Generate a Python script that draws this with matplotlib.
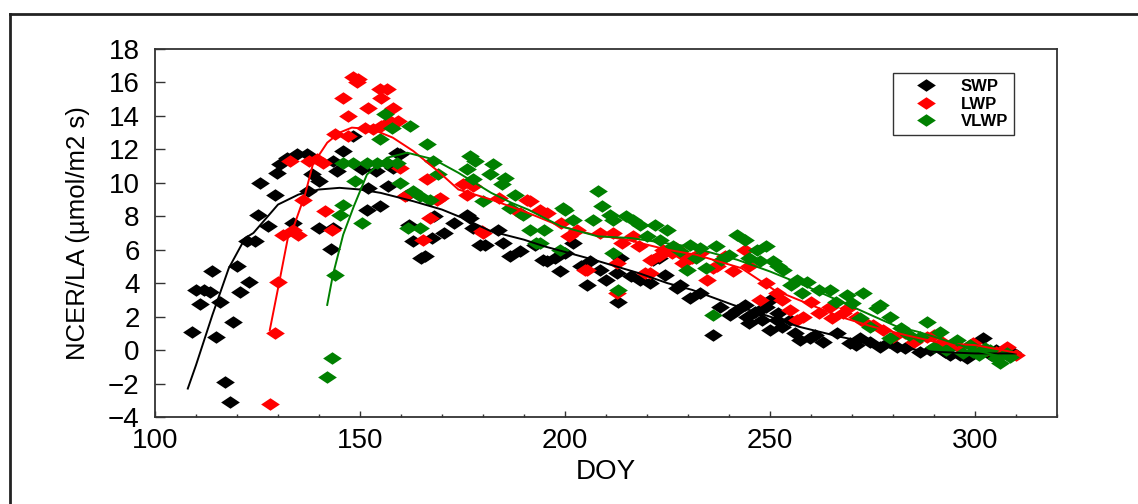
import numpy as np
import matplotlib
matplotlib.use('Agg')
import matplotlib.pyplot as plt
from matplotlib.path import Path
from matplotlib.lines import Line2D
from matplotlib.ticker import MultipleLocator

plt.rcParams['font.family'] = 'Liberation Sans'

# --- data ---
swp_x = [109, 110, 111, 112, 113.4, 113.8, 115, 115.9, 117, 118.3, 119, 120, 120.7, 122.4, 123,
         124.4, 125, 125.6, 127.6, 129.3, 129.7, 130.5, 132.2, 133.7, 134.6, 137, 137.3, 138.3,
         140, 140, 143, 143.4, 143.4, 144.4, 145.9, 148.3, 150.5, 151.7, 152, 154, 154.9, 156.6,
         156.8, 158, 159, 159.8, 161.5, 162, 163, 165, 165.9, 167.6, 168, 170.5, 173, 176, 176.8,
         177.6, 179.3, 180.5, 183.7, 185, 186.6, 189, 192.7, 194.6, 195.6, 197.6, 198.8, 200, 202,
         204, 205.4, 206, 208.5, 210, 212.7, 213, 213.4, 216, 218.3, 220.7, 221.5, 223, 224.4,
         227.3, 228, 230.5, 233, 236, 237.8, 240.2, 242, 243.9, 244.3, 245, 246.3, 247.6, 248,
         249, 250, 250, 251.7, 252, 253, 254.9, 256, 257.3, 259.8, 261, 263, 266.3, 269.5, 271,
         272, 274.4, 276.8, 279, 281, 283, 286.6, 289, 292.7, 294, 296.3, 298, 300, 302, 304,
         305, 307, 309]
swp_y = [1.1, 3.6, 2.75, 3.6, 3.5, 4.7, 0.8, 2.9, -1.9, -3.1, 1.7, 5.0, 3.5, 6.5, 4.1,
         6.5, 8.1, 10.0, 7.4, 9.3, 10.6, 11.1, 11.5, 7.6, 11.7, 11.7, 9.5, 10.5,
         10.1, 7.3, 6.05, 11.3, 7.3, 10.7, 11.9, 12.8, 10.8, 8.4, 9.7, 10.7, 8.6, 11.2,
         9.8, 10.9, 11.8, 11.7, 9.3, 7.5, 6.5, 5.5, 5.6, 6.7, 8.0, 7.0, 7.6, 8.1, 7.9,
         7.3, 6.3, 6.3, 7.2, 6.4, 5.6, 5.9, 6.3, 5.4, 5.3, 5.5, 4.7, 5.8, 6.4,
         5.0, 3.9, 5.3, 4.8, 4.2, 4.6, 2.9, 5.5, 4.4, 4.2, 4.0, 5.4, 5.5, 4.5,
         3.7, 3.9, 3.1, 3.4, 0.9, 2.6, 2.1, 2.4, 2.7, 2.0, 1.6, 2.3, 2.4, 1.8,
         2.6, 3.0, 1.2, 1.8, 2.2, 1.4, 1.8, 1.0, 0.6, 0.7, 0.9, 0.5, 1.0, 0.4, 0.3,
         0.7, 0.5, 0.2, 0.5, 0.2, 0.1, -0.1, 0.0, -0.1, -0.3, -0.3, -0.5, -0.1, 0.7, -0.3,
         0.0, -0.2, -0.1]

lwp_x = [128, 129.3, 130, 131.2, 133, 133.7, 134.9, 136, 137.5, 139.5, 141, 141.5, 143.2,
         143.9, 145.9, 147, 147, 148.3, 149.5, 149.3, 151.2, 152, 153.2, 154.9, 155, 155.2,
         156.6, 157.3, 158, 159.3, 159.8, 161, 165.4, 166.3, 167, 168.8, 169.5, 175.1, 176,
         177.6, 179.7, 180, 184, 189, 190.7, 191.5, 194, 195.6, 199, 201, 203, 204.9, 205.4,
         208.5, 211.7, 212.7, 212.7, 214, 216.6, 218, 219.5, 220.7, 221, 223, 224, 226, 227,
         228.8, 229, 231, 233, 234.6, 236, 237, 239, 241, 243.9, 245, 247.6, 249, 251.7, 253,
         254.9, 256.6, 258, 260, 262, 264.6, 265, 267.8, 269, 271.2, 273, 275, 277.6, 280, 283,
         285, 288.3, 290, 292, 294, 296, 299.5, 301, 303, 305, 307.8, 310]
lwp_y = [-3.2, 1.0, 4.1, 6.9, 11.3, 7.2, 6.9, 9.0, 11.3, 11.4, 11.2, 8.3, 7.2,
         12.9, 15.1, 14.0, 12.8, 16.3, 16.2, 16.0, 13.3, 14.5, 13.2, 15.6, 13.4, 15.1,
         15.6, 13.7, 14.5, 13.7, 10.9, 9.2, 6.6, 10.2, 7.9, 9.0, 9.1, 9.9, 9.3,
         9.8, 7.1, 7.0, 9.1, 8.2, 9.0, 8.9, 8.4, 8.2, 7.6, 6.8, 7.2, 4.8, 4.8,
         7.0, 7.0, 5.2, 3.4, 6.4, 6.8, 6.2, 4.6, 4.6, 5.4, 5.6, 6.0, 5.8, 6.1,
         5.2, 5.6, 5.5, 5.8, 4.2, 4.9, 5.0, 5.6, 4.7, 6.0, 5.0, 3.0, 4.0, 3.4, 3.0,
         2.4, 1.8, 2.0, 2.9, 2.2, 2.6, 1.9, 2.2, 2.5, 2.0, 1.7, 1.5, 1.2, 0.8, 1.0,
         0.5, 0.8, 0.9, 0.5, 0.3, 0.2, 0.4, 0.0, 0.0, -0.1, 0.2, -0.3]

vlwp_x = [142, 143.2, 143.9, 145.1, 145.9, 145.9, 148.3, 148.8, 150.5, 151.7, 154.1, 154.9,
          156.1, 156.6, 157.8, 159, 159.8, 161.7, 162.2, 163, 164.6, 164.6, 166.3, 167, 167.8,
          169, 176, 176.8, 177.6, 178, 180, 181.7, 182.4, 184.6, 185.4, 186.6, 187.8, 189.8,
          191.5, 193, 194, 195, 198.8, 199.5, 200, 202, 206.8, 208, 209, 211, 211.7, 211.7,
          212.9, 215, 216.6, 218.3, 220, 222, 223.2, 225, 226.3, 228, 229.8, 230.5, 232, 233,
          234.4, 236, 236.8, 238, 240, 242, 243.9, 245, 246.8, 247.6, 249, 250.7, 252, 253.2,
          255, 256.6, 257.8, 259, 262, 264.6, 266, 268.8, 270, 272.7, 272, 274.4, 276, 276.8,
          279.3, 279.3, 282, 284, 286.6, 288.3, 290, 291.5, 293, 295.6, 297, 298.8, 299.5, 301,
          302.4, 303.7, 305, 306, 307.8, 308.5]
vlwp_y = [-1.6, -0.5, 4.5, 8.1, 8.7, 11.2, 11.2, 10.1, 7.6, 11.2, 11.2, 12.6,
          14.1, 11.2, 13.3, 11.2, 10.0, 7.3, 13.4, 9.5, 9.2, 7.3, 12.3, 9.0, 11.3,
          10.5, 10.8, 11.6, 10.2, 11.3, 8.9, 10.5, 11.1, 9.9, 10.3, 8.5, 9.3, 8.1,
          7.2, 6.4, 6.4, 7.2, 6.0, 8.5, 8.4, 7.8, 7.8, 9.5, 8.6, 8.1, 5.8, 7.8,
          3.6, 8.0, 7.8, 7.5, 6.8, 7.5, 6.6, 7.2, 6.2, 5.9, 4.8, 6.3, 5.5, 6.1,
          4.9, 2.1, 6.2, 5.4, 5.7, 6.9, 6.6, 5.5, 6.0, 5.3, 6.2, 5.3, 5.0, 4.8,
          3.9, 4.2, 3.4, 4.1, 3.6, 3.6, 2.9, 3.3, 2.8, 3.4, 1.9, 1.4, 2.5, 2.7,
          2.0, 0.7, 1.3, 0.9, 0.8, 1.7, 0.2, 1.1, 0.0, 0.6, -0.2, 0.3, -0.1, -0.3,
          0.1, 0.0, -0.5, -0.8, -0.2, -0.4]

# fitted curves
swp_fit_x = [108, 110, 114, 118, 122, 124, 130, 135, 140, 145, 150, 155, 163, 170, 175, 182,
             190, 195, 207, 218, 225, 231, 241, 250, 257, 267, 275, 283, 290, 300, 310]
swp_fit_y = [-2.3, -0.9, 2.1, 4.9, 6.7, 7.0, 8.7, 9.3, 9.6, 9.7, 9.6, 9.4, 8.9, 8.4, 7.9, 7.1,
             6.6, 6.2, 5.4, 4.6, 4.0, 3.6, 2.7, 2.0, 1.4, 0.8, 0.4, 0.1, -0.1, -0.2, -0.2]

lwp_fit_x = [128, 130.5, 132.4, 134, 136.6, 138.5, 142, 145, 148, 153, 158, 163, 169, 174,
             182, 191, 199, 207, 215, 225, 232, 243, 251, 259, 267, 275, 283, 292, 300, 311]
lwp_fit_y = [1.2, 4.3, 6.7, 7.5, 9.3, 11.1, 12.4, 13.0, 13.3, 13.2, 12.7, 11.9, 10.7, 9.6,
             9.0, 8.2, 7.4, 6.9, 6.6, 6.0, 5.7, 4.9, 3.6, 2.8, 2.0, 1.4, 0.9, 0.4, 0.3, -0.2]

vlwp_fit_x = [142, 143.4, 145.9, 148.5, 151.7, 156.6, 161.5, 168, 174, 182, 187, 191, 199,
              208, 216, 230, 242, 250, 259, 270, 281, 286, 290, 300, 308]
vlwp_fit_y = [2.7, 4.5, 6.9, 8.6, 10.5, 11.5, 11.8, 11.4, 10.6, 9.4, 8.8, 8.4, 7.4,
              6.8, 6.7, 6.2, 5.4, 4.7, 3.8, 2.6, 1.4, 1.1, 0.8, 0.0, -0.5]

# --- plot ---
# diamond wider than tall, as in the original
diamond = Path([(-1.5, 0), (0, 1), (1.5, 0), (0, -1), (-1.5, 0)],
               [Path.MOVETO, Path.LINETO, Path.LINETO, Path.LINETO, Path.CLOSEPOLY])

fig = plt.figure(figsize=(11.38, 5.04), dpi=100)
ax = fig.add_axes([155 / 1138, 1 - 417 / 504, 902 / 1138, 368 / 504])

series = [
    (swp_x, swp_y, swp_fit_x, swp_fit_y, '#000000', 'SWP'),
    (lwp_x, lwp_y, lwp_fit_x, lwp_fit_y, '#ff0000', 'LWP'),
    (vlwp_x, vlwp_y, vlwp_fit_x, vlwp_fit_y, '#008000', 'VLWP'),
]
for i, (x, y, fx, fy, c, lab) in enumerate(series):
    ax.plot(x, y, ls='none', marker=diamond, ms=13.5, mew=0, color=c, label=lab, zorder=2 + i)
for i, (x, y, fx, fy, c, lab) in enumerate(series):
    ax.plot(fx, fy, '-', color=c, lw=1.4, zorder=6)

ax.set_xlim(100, 320)
ax.set_ylim(-4, 18)
ax.set_xticks([100, 150, 200, 250, 300])
ax.xaxis.set_minor_locator(MultipleLocator(10))
ax.set_yticks(np.arange(-4, 19, 2))

ax.tick_params(axis='x', which='major', direction='in', length=4, width=1,
               color='#333333', labelsize=20, pad=8)
ax.tick_params(axis='x', which='minor', direction='in', length=2.5, width=1, color='#333333')
ax.tick_params(axis='y', which='major', direction='in', length=7, width=1,
               color='#333333', labelsize=20, pad=11)
for s in ax.spines.values():
    s.set_color('#333333')
    s.set_linewidth(1.3)

ax.set_xlabel('DOY', fontsize=20)
ax.xaxis.set_label_coords(0.5, -0.115)
ax.set_ylabel('NCER/LA (\u00b5mol/m2 s)', fontsize=18.5)
ax.yaxis.set_label_coords(-0.072, 0.5)

leg = ax.legend(loc='upper left', bbox_to_anchor=(0.8182, 0.9348), borderaxespad=0,
                fancybox=False, framealpha=1, edgecolor='#333333',
                prop={'weight': 'bold', 'size': 12}, handlelength=3.2,
                handletextpad=0.5, labelspacing=0.15, borderpad=0.37)
leg.get_frame().set_linewidth(1.0)

# outer frame (top and left edges)
fig.add_artist(Line2D([10 / 1138, 1.0], [1 - 14 / 504, 1 - 14 / 504], color='#222222', lw=2))
fig.add_artist(Line2D([10 / 1138, 10 / 1138], [0.0, 1 - 14 / 504], color='#222222', lw=2))

fig.savefig('out.png', dpi=100)
